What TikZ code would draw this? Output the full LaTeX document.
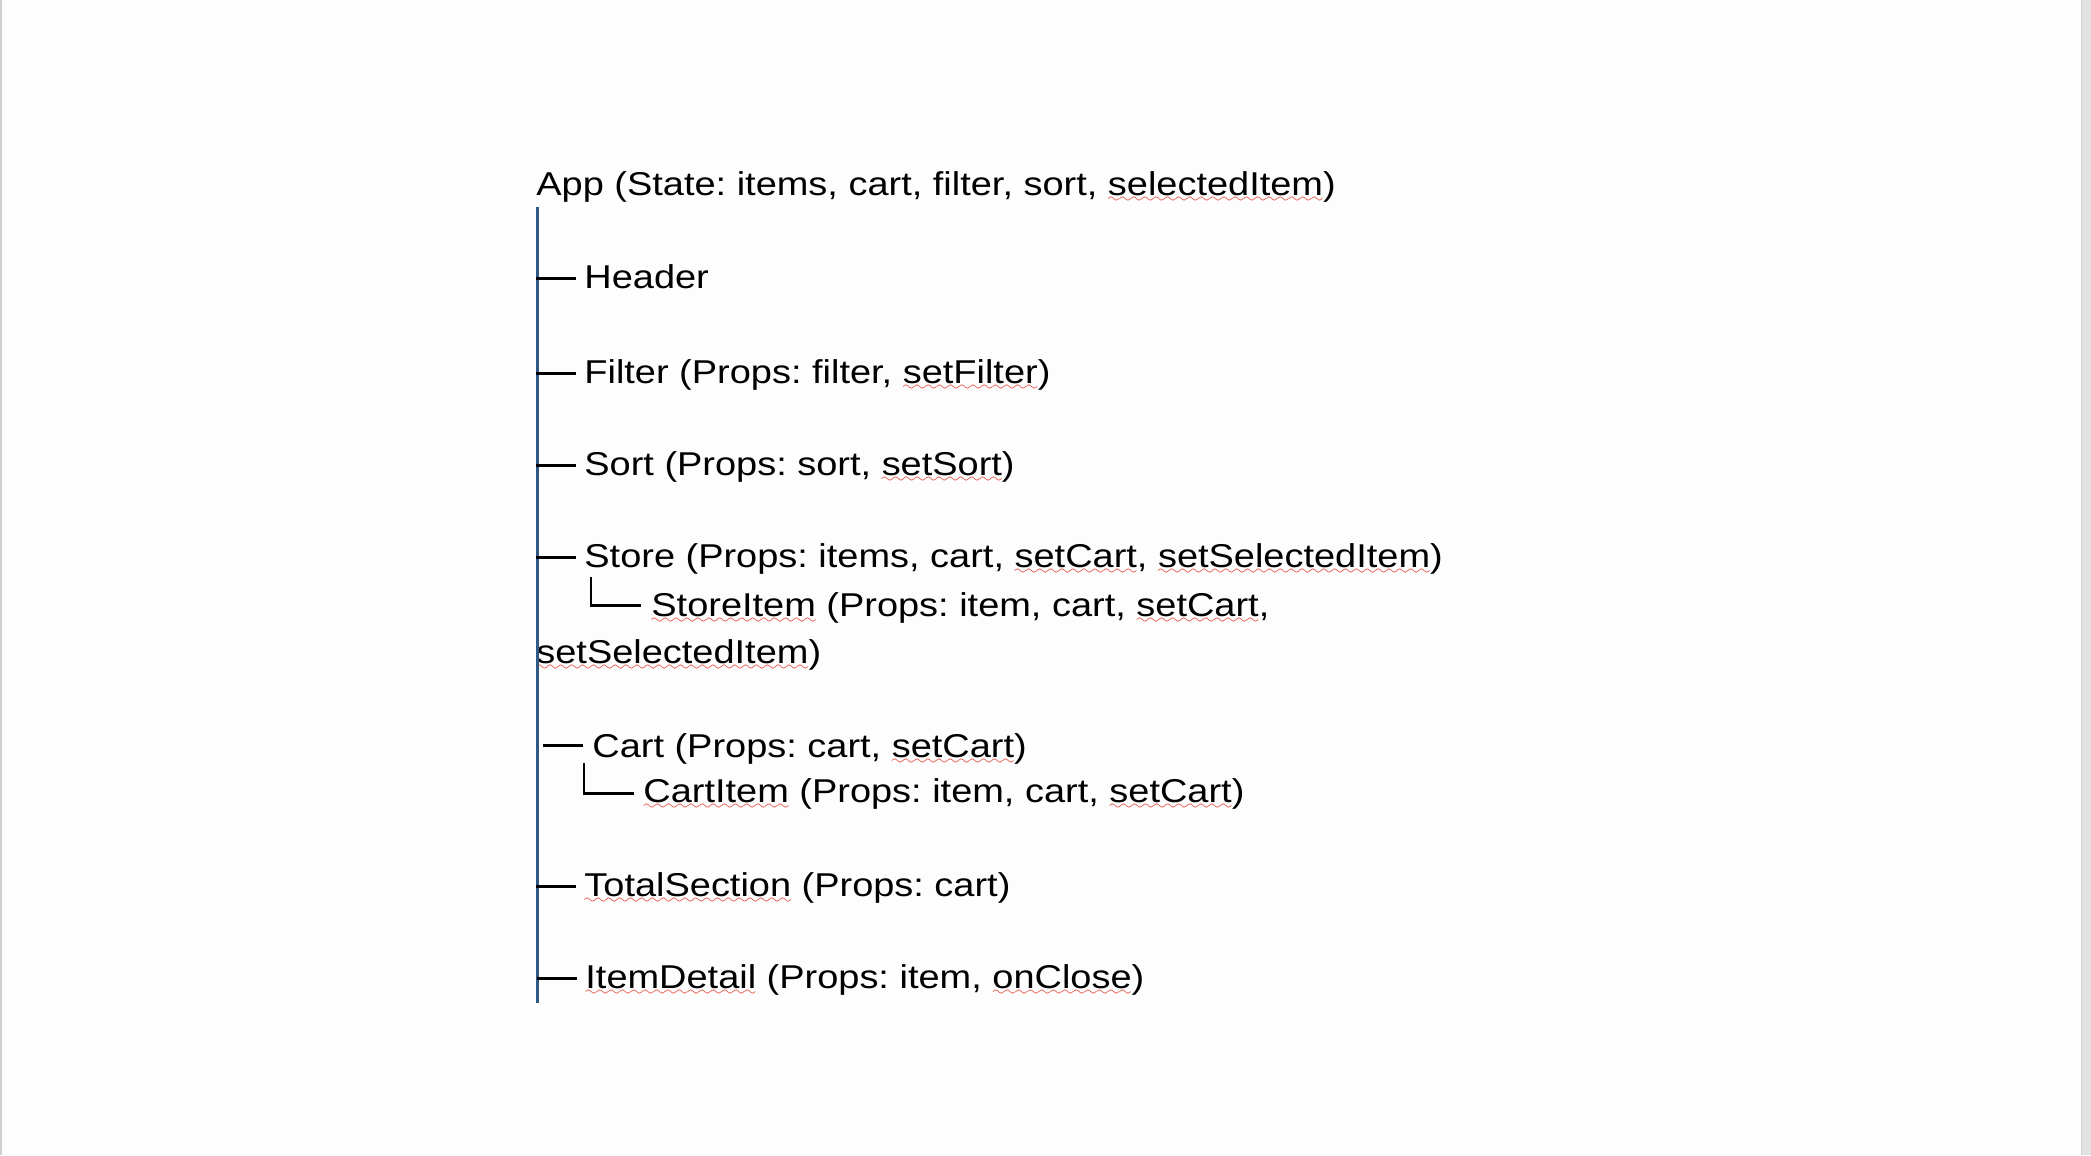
\documentclass[tikz,border=0pt]{standalone}
\usepackage{fontspec}
\setmainfont{Liberation Sans}[FakeStretch=1.15]
\usetikzlibrary{positioning}

\definecolor{treeblue}{HTML}{2E5A84}
\definecolor{squigred}{HTML}{E5392B}
\definecolor{pagebg}{HTML}{FDFDFD}
\definecolor{pageedge}{HTML}{E2E2E2}
\definecolor{pageline}{HTML}{CFCFCF}

% red spell-check wave under a word
\font\wavefont=lasy7
\newcommand\spell[1]{\setbox0\hbox{#1}\rlap{\raisebox{-3.6pt}{\textcolor{squigred}{\hbox to \wd0{\xleaders\hbox{\wavefont\char58}\hfill}}}}\box0{}}

\tikzset{
  entry/.style={anchor=base west, inner sep=0pt, font=\fontsize{16.5}{19}\selectfont\frenchspacing},
  trunk/.style={draw=treeblue, line width=1.5pt},
  branch/.style={draw=black, line width=1.1pt},
}

\begin{document}
\begin{tikzpicture}[x=0.5pt,y=-0.5pt]
% page
\fill[pagebg] (0,0) rectangle (2091,1155);
\fill[pageline] (0,0) rectangle (2,1155);
\fill[pageedge] (2081,0) rectangle (2091,1155);
\draw[pageline] (2081.5,0) -- (2081.5,1155);

% entries
\node[entry] (app) at (536,195) {App (State: items, cart, filter, sort, \spell{selectedItem})};
\node[entry] (header) at (584,288) {Header};
\node[entry] (filter) at (584,383) {Filter (Props: filter, \spell{setFilter})};
\node[entry] (sort) at (584,475) {Sort (Props: sort, \spell{setSort})};
\node[entry] (store) at (584,567) {Store (Props: items, cart, \spell{setCart}, \spell{setSelectedItem})};
\node[entry] (storeitem) at (651,616) {\spell{StoreItem} (Props: item, cart, \spell{setCart},};
\node[entry] (storeitemb) at (536,663) {\spell{setSelectedItem})};
\node[entry] (cart) at (592,757) {Cart (Props: cart, \spell{setCart})};
\node[entry] (cartitem) at (643,802) {\spell{CartItem} (Props: item, cart, \spell{setCart})};
\node[entry] (total) at (584,896) {\spell{TotalSection} (Props: cart)};
\node[entry] (detail) at (585,988) {\spell{ItemDetail} (Props: item, \spell{onClose})};

% tree lines
\coordinate (top) at (537.5,207);
\coordinate (bot) at (537.5,1003);
\draw[trunk] (top) -- (bot);
\foreach \n in {header,filter,sort,store,total,detail}
  \draw[branch] ([shift={(-48,-10)}]\n.base west) -- ++(40,0);
\draw[branch] ([shift={(-49,-12)}]cart.base west) -- ++(40,0);
\draw[branch] ([shift={(-60,-39)}]storeitem.base west) |- ([shift={(-10,-11)}]storeitem.base west);
\draw[branch] ([shift={(-59,-39)}]cartitem.base west) |- ([shift={(-9,-9)}]cartitem.base west);
\end{tikzpicture}
\end{document}
